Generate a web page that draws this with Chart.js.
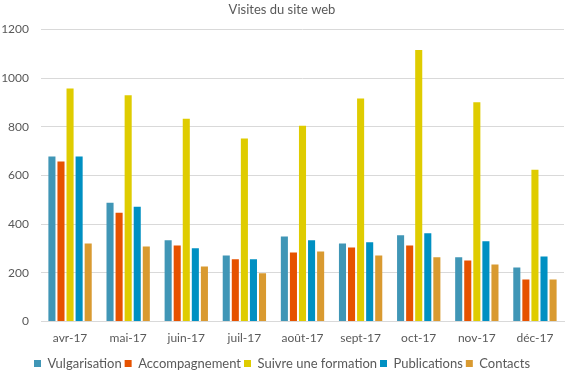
<!DOCTYPE html>
<html lang="fr">
<head>
    <meta charset="utf-8">
    <title>Visites du site web</title>
    <script src="https://cdn.jsdelivr.net/npm/chart.js"></script>
    <style>
        html, body { margin: 0; padding: 0; background: #fff; }
        #chart-container { position: relative; width: 571px; height: 372px; }
    </style>
</head>
<body>
    <div id="chart-container">
        <canvas id="chart"></canvas>
    </div>

    <script>
        var months = ['avr-17', 'mai-17', 'juin-17', 'juil-17', 'août-17', 'sept-17', 'oct-17', 'nov-17', 'déc-17'];
        var vulgarisation = [678, 488, 334, 272, 350, 321, 355, 264, 222];
        var accompagnement = [658, 447, 313, 256, 284, 305, 313, 251, 173];
        var formation = [958, 930, 834, 752, 805, 917, 1116, 901, 624];
        var publications = [678, 472, 301, 256, 334, 326, 363, 330, 268];
        var contacts = [321, 309, 226, 199, 288, 272, 264, 235, 173];

        var textColor = '#595959';
        var fontFamily = 'Lato, "Liberation Sans", sans-serif';

        function makeSet(label, data, color) {
            return {
                label: label,
                data: data,
                backgroundColor: color,
                borderWidth: 0,
                categoryPercentage: 0.78,
                barPercentage: 0.78
            };
        }

        var ctx = document.getElementById('chart').getContext('2d');
        var chart = new Chart(ctx, {
            type: 'bar',
            data: {
                labels: months,
                datasets: [
                    makeSet('Vulgarisation', vulgarisation, '#4096B6'),
                    makeSet('Accompagnement', accompagnement, '#E65200'),
                    makeSet('Suivre une formation', formation, '#DFCC00'),
                    makeSet('Publications', publications, '#0090C2'),
                    makeSet('Contacts', contacts, '#D99A30')
                ]
            },
            options: {
                responsive: true,
                maintainAspectRatio: false,
                animation: false,
                layout: { padding: { top: 0, right: 7, bottom: -8, left: 0 } },
                plugins: {
                    title: {
                        display: true,
                        text: 'Visites du site web',
                        color: textColor,
                        font: { family: fontFamily, size: 13, weight: 'normal' },
                        padding: { top: 2, bottom: 12 }
                    },
                    legend: {
                        position: 'bottom',
                        labels: {
                            color: textColor,
                            font: { family: fontFamily, size: 13 },
                            boxWidth: 7,
                            boxHeight: 7,
                            padding: 3
                        }
                    },
                    tooltip: { enabled: false }
                },
                scales: {
                    x: {
                        grid: { display: false, drawTicks: false },
                        border: { display: true, color: '#d9d9d9' },
                        ticks: {
                            color: textColor,
                            font: { family: fontFamily, size: 12 },
                            padding: 9
                        }
                    },
                    y: {
                        min: 0,
                        max: 1200,
                        afterFit: function(scale) { scale.width = 41; },
                        grid: { color: '#d9d9d9', drawTicks: false },
                        border: { display: false },
                        ticks: {
                            stepSize: 200,
                            color: textColor,
                            font: { family: fontFamily, size: 12 },
                            padding: 12,
                            callback: function(v) { return String(v); }
                        }
                    }
                }
            }
        });
    </script>
</body>
</html>
